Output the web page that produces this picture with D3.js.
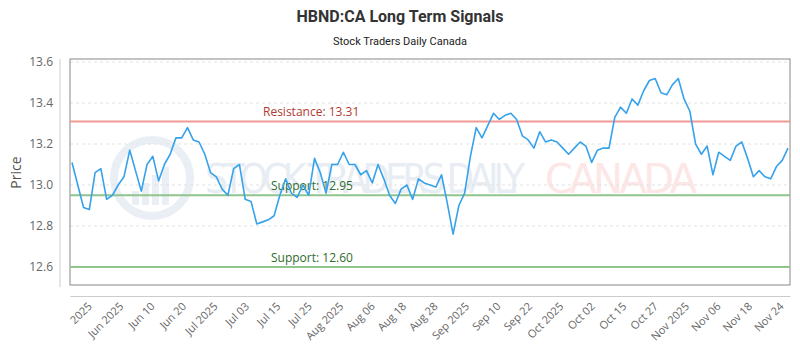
<!DOCTYPE html>
<html>
<head>
<meta charset="utf-8">
<script src="https://cdn.jsdelivr.net/npm/d3@7"></script>
<style>
  body { margin: 0; background: #fff; }
  svg { display: block; font-family: "Open Sans", sans-serif; }
</style>
</head>
<body>
<svg id="chart"></svg>
<script>
// closing prices, one per trading day
const prices = [
  13.11, 13.00, 12.89, 12.88, 13.06, 13.08, 12.93, 12.95, 13.00, 13.04,
  13.17, 13.07, 12.97, 13.10, 13.14, 13.02, 13.10, 13.15, 13.23, 13.23,
  13.28, 13.22, 13.21, 13.15, 13.06, 13.04, 12.98, 12.95, 13.08, 13.10,
  12.93, 12.92, 12.81, 12.82, 12.83, 12.85, 12.95, 13.03, 12.96, 12.94,
  13.00, 12.95, 13.13, 13.06, 12.96, 13.10, 13.10, 13.16, 13.10, 13.10,
  13.05, 13.07, 13.01, 13.10, 13.03, 12.95, 12.91, 12.98, 13.00, 12.93,
  13.03, 13.01, 13.00, 12.99, 13.05, 12.91, 12.76, 12.90, 12.96, 13.14,
  13.28, 13.23, 13.29, 13.35, 13.32, 13.34, 13.35, 13.32, 13.24, 13.22,
  13.18, 13.26, 13.21, 13.22, 13.21, 13.18, 13.15, 13.18, 13.21, 13.19,
  13.11, 13.17, 13.18, 13.18, 13.33, 13.38, 13.35, 13.42, 13.39, 13.46,
  13.51, 13.52, 13.45, 13.44, 13.49, 13.52, 13.42, 13.36, 13.20, 13.15,
  13.19, 13.05, 13.16, 13.14, 13.12, 13.19, 13.21, 13.13, 13.04, 13.07,
  13.04, 13.03, 13.09, 13.12, 13.18
];

const xLabels = [
  "2025", "Jun 2025", "Jun 10", "Jun 20", "Jul 2025", "Jul 03", "Jul 15", "Jul 25",
  "Aug 2025", "Aug 06", "Aug 18", "Aug 28", "Sep 2025", "Sep 10", "Sep 22",
  "Oct 2025", "Oct 02", "Oct 15", "Oct 27", "Nov 2025", "Nov 06", "Nov 18", "Nov 24"
];

const yTicks = [12.6, 12.8, 13.0, 13.2, 13.4, 13.6];

const levels = [
  {name: "Resistance", value: 13.31, line: "#ef9a94", text: "#b03a32"},
  {name: "Support", value: 12.95, line: "#8fc48c", text: "#2f6b2c"},
  {name: "Support", value: 12.60, line: "#8fc48c", text: "#2f6b2c"}
];

const width = 800, height = 350;
const margin = {top: 59, right: 10, bottom: 64, left: 70};
const innerW = width - margin.left - margin.right;
const innerH = height - margin.top - margin.bottom;

const svg = d3.select("#chart").attr("width", width).attr("height", height);

// title
svg.append("text")
  .attr("x", width / 2).attr("y", 22)
  .attr("text-anchor", "middle")
  .style("font-family", "Roboto, sans-serif")
  .style("font-weight", "bold").style("font-size", "16px")
  .attr("fill", "#333")
  .text("HBND:CA Long Term Signals");

svg.append("text")
  .attr("x", width / 2).attr("y", 45)
  .attr("text-anchor", "middle")
  .style("font-family", "Roboto, sans-serif")
  .style("font-size", "11px")
  .attr("fill", "#222")
  .text("Stock Traders Daily Canada");

const xScale = d3.scaleLinear()
  .domain([0, prices.length - 1])
  .range([2, innerW - 2]);

const yScale = d3.scaleLinear()
  .domain([12.507, 13.615])
  .range([innerH, 0]);

const labelScale = d3.scalePoint()
  .domain(xLabels)
  .range([0, innerW])
  .padding(0.45);

const chart = svg.append("g")
  .attr("transform", `translate(${margin.left},${margin.top})`);

// watermark
const wm = chart.append("g");
wm.append("circle")
  .attr("cx", 82).attr("cy", 119).attr("r", 38)
  .attr("fill", "none").attr("stroke", "#eaeff5").attr("stroke-width", 8);
wm.append("g")
  .selectAll("rect")
  .data([14, 22, 30, 38])
  .join("rect")
  .attr("x", (d, i) => 62 + i * 10)
  .attr("y", d => 146 - d)
  .attr("width", 7)
  .attr("height", d => d)
  .attr("fill", "#eaeff5");
wm.append("text")
  .attr("x", 135).attr("y", 134)
  .attr("textLength", 320)
  .style("font-family", "'DejaVu Sans Condensed', sans-serif")
  .style("font-size", "40px")
  .attr("fill", "#e8edf4")
  .text("STOCK TRADERS DAILY");
wm.append("text")
  .attr("x", 475).attr("y", 134)
  .attr("textLength", 152)
  .style("font-family", "'DejaVu Sans', sans-serif")
  .style("font-size", "40px")
  .attr("fill", "#fde6e6")
  .text("CANADA");

// grid
chart.append("g")
  .selectAll("line")
  .data(yTicks)
  .join("line")
  .attr("x1", 0).attr("x2", innerW)
  .attr("y1", d => yScale(d)).attr("y2", d => yScale(d))
  .attr("stroke", "#e2e2e2")
  .attr("stroke-dasharray", "3,3");

// frame
chart.append("rect")
  .attr("x", 0).attr("y", 0)
  .attr("width", innerW).attr("height", innerH - 1)
  .attr("fill", "none")
  .attr("stroke", "#888");

// support / resistance
chart.append("g")
  .selectAll("line")
  .data(levels)
  .join("line")
  .attr("x1", 0).attr("x2", innerW)
  .attr("y1", d => yScale(d.value)).attr("y2", d => yScale(d.value))
  .attr("stroke", d => d.line)
  .attr("stroke-width", 2);

chart.append("g")
  .selectAll("text")
  .data(levels)
  .join("text")
  .attr("x", d => d.name === "Resistance" ? 193 : 201)
  .attr("y", d => yScale(d.value) - 5)
  .style("font-size", "12px")
  .attr("fill", d => d.text)
  .text(d => `${d.name}: ${d.value.toFixed(2)}`);

// price line
const line = d3.line()
  .x((d, i) => xScale(i))
  .y(d => yScale(d));

chart.append("path")
  .datum(prices)
  .attr("fill", "none")
  .attr("stroke", "#36a2eb")
  .attr("stroke-width", 1.6)
  .attr("stroke-linejoin", "round")
  .attr("d", line);

// y axis, offset to the left of the frame
const yAxisG = svg.append("g")
  .attr("transform", `translate(60,${margin.top})`)
  .call(d3.axisLeft(yScale).tickValues(yTicks).tickFormat(d3.format(".1f")).tickSize(0).tickPadding(7));
yAxisG.select(".domain").attr("stroke", "#ccc").attr("d", `M0,0V${innerH + 1}`);
yAxisG.selectAll("text").style("font-size", "12px").style("font-family", "'Open Sans', sans-serif").attr("fill", "#666");

svg.append("text")
  .attr("transform", `translate(21,${margin.top + innerH / 2}) rotate(-90)`)
  .attr("text-anchor", "middle")
  .style("font-size", "14px")
  .attr("fill", "#555")
  .text("Price");

// x axis, offset below the frame
const xAxisG = svg.append("g")
  .attr("transform", `translate(${margin.left},${margin.top + innerH + 10})`)
  .call(d3.axisBottom(labelScale).tickSize(0).tickPadding(0));
xAxisG.select(".domain").attr("stroke", "#ccc");
xAxisG.selectAll("text")
  .style("font-size", "11px")
  .style("font-family", "'Open Sans', sans-serif")
  .attr("fill", "#666")
  .attr("text-anchor", "end")
  .attr("dy", "0")
  .attr("transform", "translate(8,11) rotate(-45)");
</script>
</body>
</html>
